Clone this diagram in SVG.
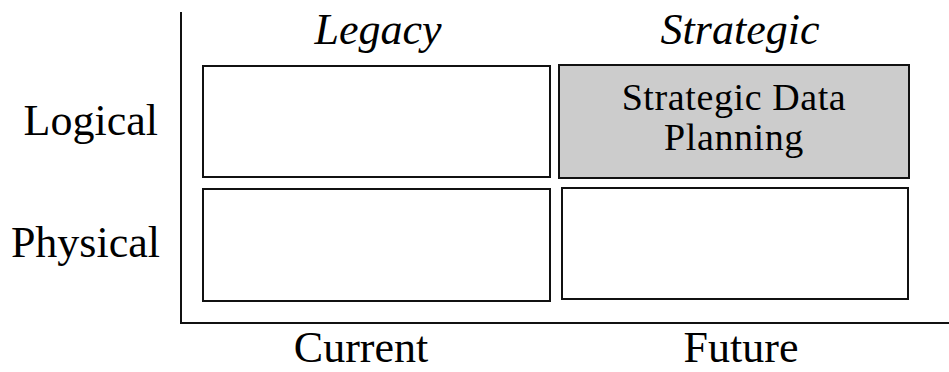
<svg xmlns="http://www.w3.org/2000/svg" width="949" height="372" viewBox="0 0 949 372">
<style>
.box{fill:#ffffff;stroke:#111111;stroke-width:2}
.hl{fill:#cccccc}
.lbl{font-family:"Liberation Serif",serif;font-size:44px;fill:#000}
.it{font-style:italic}
.inner{font-family:"Liberation Serif",serif;font-size:38px;letter-spacing:0.6px;fill:#000}
.axis{stroke:#111111;stroke-width:2;fill:none}
</style>
<rect width="949" height="372" fill="#ffffff"/>
<g id="axes">
<path class="axis" d="M181,12 V323 H949"/>
</g>
<g id="cell-legacy-logical"><rect class="box" x="203" y="66" width="347" height="111"/></g>
<g id="cell-strategic-logical"><rect class="box hl" x="559" y="65" width="350" height="113"/>
<text class="inner" x="734" y="110" text-anchor="middle">Strategic Data</text>
<text class="inner" x="734" y="150" text-anchor="middle">Planning</text></g>
<g id="cell-legacy-physical"><rect class="box" x="203" y="189" width="347" height="112"/></g>
<g id="cell-future-physical"><rect class="box" x="562" y="188" width="346" height="111"/></g>
<g id="labels">
<text class="lbl it" x="378" y="44" text-anchor="middle">Legacy</text>
<text class="lbl it" x="740" y="44" text-anchor="middle">Strategic</text>
<text class="lbl" x="158" y="135" text-anchor="end">Logical</text>
<text class="lbl" x="160" y="257" text-anchor="end">Physical</text>
<text class="lbl" x="361" y="362" text-anchor="middle">Current</text>
<text class="lbl" x="741" y="362" text-anchor="middle">Future</text>
</g>
</svg>
